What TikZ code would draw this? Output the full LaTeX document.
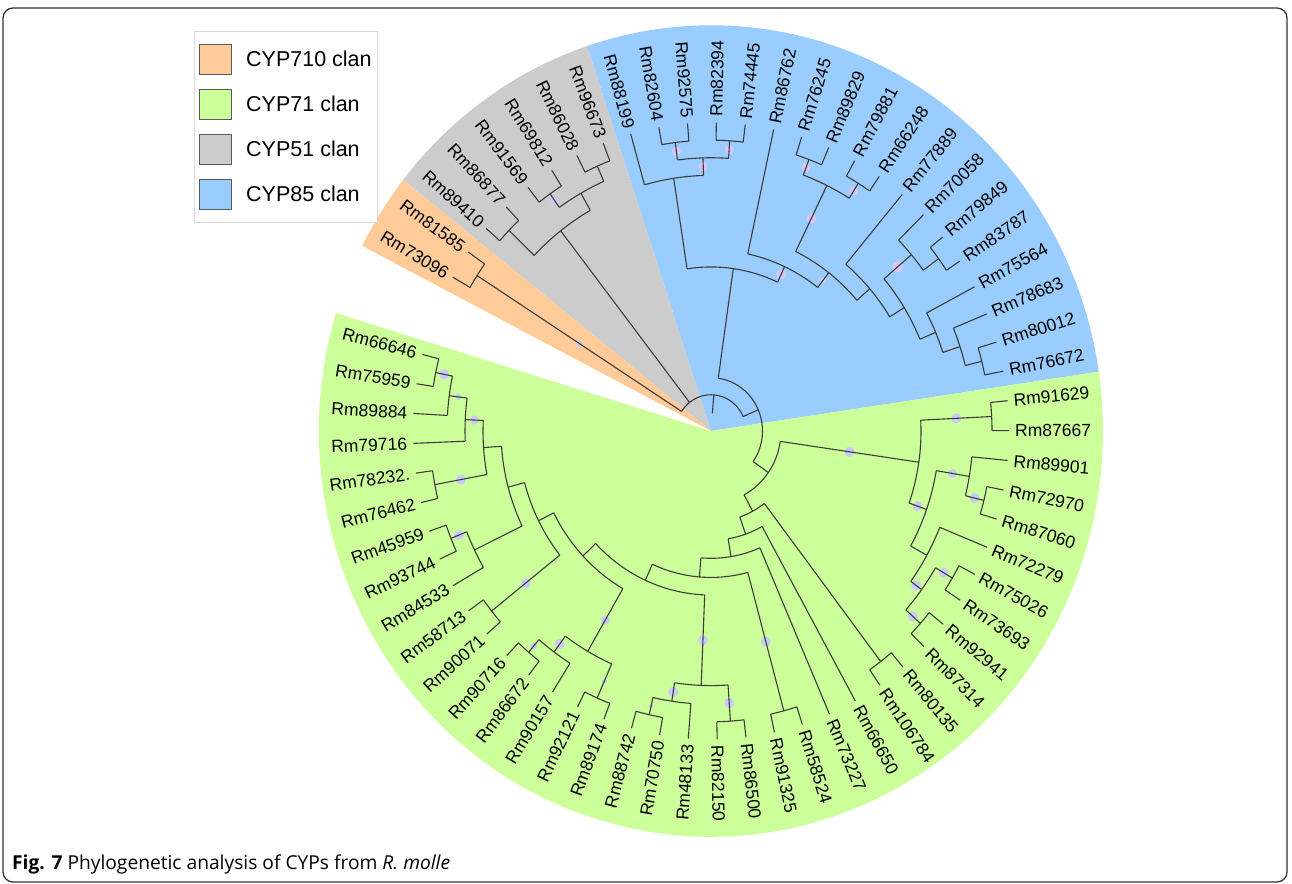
\documentclass[tikz,border=0pt]{standalone}
\usepackage{fontspec}
\setmainfont{Liberation Sans}
\newfontfamily\capfont{Open Sans}
\definecolor{corange}{HTML}{FFCC99}
\definecolor{cgreen}{HTML}{CCFF99}
\definecolor{cgrey}{HTML}{CCCCCC}
\definecolor{cblue}{HTML}{99CCFF}
\definecolor{dotG}{HTML}{C8CCF2}
\definecolor{dotB}{HTML}{D6C6F4}
\definecolor{treeline}{HTML}{3C3C3C}
\newcommand\tarc[3]{\draw[br] (#2:#1) arc[start angle=#2,end angle=#3,radius=#1];}
\newcommand\tstem[3]{\draw[br] (#1:#2) -- (#1:#3);}
\newcommand\tdot[4]{\fill[#1] (#2:#3) circle (#4);}
\newcommand\tleaf[4]{%
  \coordinate (tip#1) at (#2:298);
  \draw[br] (#2:#3) -- (tip#1);
  \pgfmathtruncatemacro\tside{cos(#2)>0 ? 1 : 0}%
  \pgfmathsetmacro\tap{atan2(1.035*sin(#2),cos(#2))}%
  \ifnum\tside=1
    \node[lbl,anchor=west,rotate=\tap] (#1) at (tip#1) {#4};
  \else
    \pgfmathsetmacro\tap{\tap+180}%
    \node[lbl,anchor=east,rotate=\tap] (#1) at (tip#1) {#4};
  \fi}
\begin{document}
\begin{tikzpicture}[x=1pt,y=1pt,
  br/.style={draw=treeline,line width=1.1pt},
  lbl/.style={font=\fontsize{17.5}{20}\selectfont,inner xsep=6pt,inner ysep=1pt,text=black},
  sq/.style={draw=black!65,line width=0.8pt,minimum width=32pt,minimum height=30pt,inner sep=0pt},
  legt/.style={anchor=west,font=\fontsize{21.5}{24}\selectfont,inner sep=0pt}]
\useasboundingbox (0,0) rectangle (1292,883);
\fill[white] (0,0) rectangle (1292,883);
\draw[line width=1.3pt,draw=black!80,rounded corners=10pt] (3,1) rectangle (1287,875);

\begin{scope}[shift={(711,452)},yscale=1.035]
% clan sectors
\fill[cblue] (0,0) -- (8.41:392) arc[start angle=8.41,end angle=108.41,radius=392] -- cycle;
\fill[cgrey] (0,0) -- (108.41:392) arc[start angle=108.41,end angle=141.74,radius=392] -- cycle;
\fill[corange] (0,0) -- (141.74:392) arc[start angle=141.74,end angle=152.85,radius=392] -- cycle;
\fill[cgreen] (0,0) -- (163.1:392) arc[start angle=163.1,end angle=368.41,radius=392] -- cycle;

% support dots
\tdot{dotB}{97.30}{272.5}{4.5}
\tdot{dotB}{86.19}{272.5}{4.5}
\tdot{dotB}{91.745}{255.5}{4.5}
\tdot{dotB}{65.14}{166.75}{5}
\tdot{dotB}{52.42}{184}{3}
\tdot{dotB}{63.965}{228.5}{5}
\tdot{dotB}{69.52}{272}{4.5}
\tdot{dotB}{58.41}{272.5}{4.5}
\tdot{dotB}{40.355}{245}{5.5}
\tdot{dotB}{36.19}{272.5}{2}
\tdot{dotB}{18.13}{253}{2}
\tdot{dotG}{125.08}{272}{4.5}
\tdot{dotG}{147.305}{156.5}{3}
\tdot{dotG}{-8.26}{140}{5}
\tdot{dotG}{2.855}{245.5}{5}
\tdot{dotG}{-19.37}{219}{5}
\tdot{dotG}{-9.645}{245}{4.5}
\tdot{dotG}{-13.81}{271.5}{5}
\tdot{dotG}{-29.09}{237.75}{1.5}
\tdot{dotG}{-36.035}{253.75}{5}
\tdot{dotG}{-30.48}{270}{5}
\tdot{dotG}{-41.59}{270}{5}
\tdot{dotG}{-74.925}{210.75}{5}
\tdot{dotG}{-92.285}{202.25}{5}
\tdot{dotG}{-98.535}{255}{5}
\tdot{dotG}{-102.70}{272.5}{2}
\tdot{dotG}{-86.035}{263.5}{5}
\tdot{dotG}{-120.065}{211}{4.5}
\tdot{dotG}{-126.315}{255.5}{5}
\tdot{dotG}{-130.48}{273}{3.5}
\tdot{dotG}{-113.815}{264}{2.5}
\tdot{dotG}{-141.59}{236.5}{5}
\tdot{dotG}{-158.26}{271.5}{5}
\tdot{dotG}{-169.37}{254.5}{5}
\tdot{dotG}{-182.5625}{237}{4.5}
\tdot{dotG}{-187.425}{255}{3}
\tdot{dotG}{-191.59}{272.5}{5}

% root
\tstem{85.38}{17}{35}
\tarc{35}{23.45}{147.305}
\tstem{23.45}{35}{51.5}
\tstem{127.86}{35}{245}
\tstem{147.305}{35}{278}
% CYP710
\tarc{278}{144.53}{150.08}
\tleaf{x81585}{144.53}{278}{Rm81585}
\tleaf{x73096}{150.08}{278}{Rm73096}
% CYP51
\tarc{245}{119.52}{136.19}
\tstem{119.52}{245}{264}
\tstem{136.19}{245}{280}
\tarc{264}{113.965}{125.08}
\tstem{113.965}{264}{280}
\tstem{125.08}{264}{280}
\tarc{280}{111.19}{116.74}
\tleaf{x96673}{111.19}{280}{Rm96673}
\tleaf{x86028}{116.74}{280}{Rm86028}
\tarc{280}{122.30}{127.86}
\tleaf{x69812}{122.30}{280}{Rm69812}
\tleaf{x91569}{127.86}{280}{Rm91569}
\tarc{280}{133.41}{138.97}
\tleaf{x86877}{133.41}{280}{Rm86877}
\tleaf{x89410}{138.97}{280}{Rm89410}
% split CYP85 / CYP71
\tarc{51.5}{-35.016}{81.915}
\tstem{81.915}{51.5}{158.5}
\tstem{-35.016}{51.5}{70}
% CYP85
\tarc{158.5}{65.14}{98.69}
\tstem{98.69}{158.5}{247}
\tstem{65.14}{158.5}{175}
\tarc{247}{91.745}{105.63}
\tleaf{x88199}{105.63}{247}{Rm88199}
\tstem{91.745}{247}{264}
\tarc{264}{86.19}{97.30}
\tstem{97.30}{264}{281}
\tstem{86.19}{264}{281}
\tarc{281}{94.52}{100.08}
\tleaf{x82604}{100.08}{281}{Rm82604}
\tleaf{x92575}{94.52}{281}{Rm92575}
\tarc{281}{83.41}{88.97}
\tleaf{x82394}{88.97}{281}{Rm82394}
\tleaf{x74445}{83.41}{281}{Rm74445}
\tarc{175}{52.42}{77.86}
\tleaf{x86762}{77.86}{175}{Rm86762}
\tstem{52.42}{175}{193}
\tarc{193}{40.88}{63.965}
\tstem{63.965}{193}{264}
\tstem{40.88}{193}{210}
\tarc{264}{58.41}{69.52}
\tstem{69.52}{264}{280}
\tstem{58.41}{264}{281}
\tarc{280}{66.74}{72.30}
\tleaf{x76245}{72.30}{280}{Rm76245}
\tleaf{x89829}{66.74}{280}{Rm89829}
\tarc{281}{55.63}{61.19}
\tleaf{x79881}{61.19}{281}{Rm79881}
\tleaf{x66248}{55.63}{281}{Rm66248}
\tarc{210}{31.675}{50.08}
\tleaf{x77889}{50.08}{210}{Rm77889}
\tstem{31.675}{210}{227}
\tarc{227}{22.995}{40.355}
\tstem{40.355}{227}{263}
\tstem{22.995}{227}{244}
\tarc{263}{36.19}{44.52}
\tleaf{x70058}{44.52}{263}{Rm70058}
\tstem{36.19}{263}{282}
\tarc{282}{33.41}{38.97}
\tleaf{x79849}{38.97}{282}{Rm79849}
\tleaf{x83787}{33.41}{282}{Rm83787}
\tarc{244}{18.13}{27.86}
\tleaf{x75564}{27.86}{244}{Rm75564}
\tstem{18.13}{244}{262}
\tarc{262}{13.965}{22.30}
\tleaf{x78683}{22.30}{262}{Rm78683}
\tstem{13.965}{262}{279}
\tarc{279}{11.19}{16.74}
\tleaf{x80012}{16.74}{279}{Rm80012}
\tleaf{x76672}{11.19}{279}{Rm76672}
% CYP71
\tarc{70}{-61.772}{-8.26}
\tstem{-8.26}{70}{210}
\tstem{-61.772}{70}{88}
\tarc{210}{-19.37}{2.855}
\tstem{2.855}{210}{281}
\tstem{-19.37}{210}{228.5}
\tarc{281}{0.08}{5.63}
\tleaf{x91629}{5.63}{281}{Rm91629}
\tleaf{x87667}{0.08}{281}{Rm87667}
\tarc{228.5}{-29.09}{-9.645}
\tstem{-9.645}{228.5}{262}
\tstem{-29.09}{228.5}{247}
\tarc{262}{-13.81}{-5.48}
\tleaf{x89901}{-5.48}{262}{Rm89901}
\tstem{-13.81}{262}{281}
\tarc{281}{-16.59}{-11.03}
\tleaf{x72970}{-11.03}{281}{Rm72970}
\tleaf{x87060}{-16.59}{281}{Rm87060}
\tarc{247}{-36.035}{-22.14}
\tleaf{x72279}{-22.14}{247}{Rm72279}
\tstem{-36.035}{247}{260.5}
\tarc{260.5}{-41.59}{-30.48}
\tstem{-30.48}{260.5}{280}
\tstem{-41.59}{260.5}{280}
\tarc{280}{-33.26}{-27.70}
\tleaf{x75026}{-27.70}{280}{Rm75026}
\tleaf{x73693}{-33.26}{280}{Rm73693}
\tarc{280}{-44.37}{-38.81}
\tleaf{x92941}{-38.81}{280}{Rm92941}
\tleaf{x87314}{-44.37}{280}{Rm87314}
\tarc{88}{-70.844}{-52.70}
\tstem{-52.70}{88}{280}
\tstem{-70.844}{88}{105.5}
\tarc{280}{-55.48}{-49.92}
\tleaf{x80135}{-49.92}{280}{Rm80135}
\tleaf{x106784}{-55.48}{280}{Rm106784}
\tarc{105.5}{-80.648}{-61.04}
\tleaf{x66650}{-61.04}{105.5}{Rm66650}
\tstem{-80.648}{105.5}{123}
\tarc{123}{-94.706}{-66.59}
\tleaf{x73227}{-66.59}{123}{Rm73227}
\tstem{-94.706}{123}{141.5}
\tarc{141.5}{-114.486}{-74.925}
\tstem{-74.925}{141.5}{280}
\tstem{-114.486}{141.5}{158.5}
\tarc{280}{-77.70}{-72.15}
\tleaf{x58524}{-72.15}{280}{Rm58524}
\tleaf{x91325}{-77.70}{280}{Rm91325}
\tarc{158.5}{-136.687}{-92.285}
\tstem{-92.285}{158.5}{246}
\tstem{-136.687}{158.5}{176}
\tarc{246}{-98.535}{-86.035}
\tstem{-98.535}{246}{264}
\tstem{-86.035}{246}{281}
\tarc{281}{-88.81}{-83.26}
\tleaf{x86500}{-83.26}{281}{Rm86500}
\tleaf{x82150}{-88.81}{281}{Rm82150}
\tarc{264}{-102.70}{-94.37}
\tleaf{x48133}{-94.37}{264}{Rm48133}
\tstem{-102.70}{264}{281}
\tarc{281}{-105.48}{-99.92}
\tleaf{x70750}{-99.92}{281}{Rm70750}
\tleaf{x88742}{-105.48}{281}{Rm88742}
\tarc{176}{-153.309}{-120.065}
\tstem{-120.065}{176}{246}
\tstem{-153.309}{176}{193}
\tarc{246}{-126.315}{-113.815}
\tstem{-113.815}{246}{282}
\tstem{-126.315}{246}{265}
\tarc{282}{-116.59}{-111.04}
\tleaf{x89174}{-111.04}{282}{Rm89174}
\tleaf{x92121}{-116.59}{282}{Rm92121}
\tarc{265}{-130.48}{-122.15}
\tleaf{x90157}{-122.15}{265}{Rm90157}
\tstem{-130.48}{265}{281}
\tarc{281}{-133.26}{-127.70}
\tleaf{x86672}{-127.70}{281}{Rm86672}
\tleaf{x90716}{-133.26}{281}{Rm90716}
\tarc{193}{-165.028}{-141.59}
\tstem{-141.59}{193}{280}
\tstem{-165.028}{193}{210}
\tarc{280}{-144.37}{-138.81}
\tleaf{x90071}{-138.81}{280}{Rm90071}
\tleaf{x58713}{-144.37}{280}{Rm58713}
\tarc{210}{-175.966}{-154.09}
\tstem{-154.09}{210}{263}
\tstem{-175.966}{210}{228}
\tarc{263}{-158.26}{-149.92}
\tleaf{x84533}{-149.92}{263}{Rm84533}
\tstem{-158.26}{263}{280}
\tarc{280}{-161.04}{-155.48}
\tleaf{x93744}{-155.48}{280}{Rm93744}
\tleaf{x45959}{-161.04}{280}{Rm45959}
\tarc{228}{-182.5625}{-169.37}
\tstem{-169.37}{228}{281}
\tstem{-182.5625}{228}{246}
\tarc{281}{-172.15}{-166.59}
\tleaf{x76462}{-166.59}{281}{Rm76462}
\tleaf{x78232}{-172.15}{281}{Rm78232.}
\tarc{246}{-187.425}{-177.70}
\tleaf{x79716}{-177.70}{246}{Rm79716}
\tstem{-187.425}{246}{264}
\tarc{264}{-191.59}{-183.26}
\tleaf{x89884}{-183.26}{264}{Rm89884}
\tstem{-191.59}{264}{281}
\tarc{281}{-194.37}{-188.81}
\tleaf{x75959}{-188.81}{281}{Rm75959}
\tleaf{x66646}{-194.37}{281}{Rm66646}
\end{scope}

% legend
\draw[draw=black!15,line width=0.8pt,fill=white] (194,661) rectangle (377,852);
\node[sq,fill=corange] (k1) at (215.5,824) {};
\node[sq,fill=cgreen] (k2) at (215.5,779) {};
\node[sq,fill=cgrey] (k3) at (215.5,734) {};
\node[sq,fill=cblue] (k4) at (215.5,689) {};
\node[legt] (t1) at (246,824) {CYP710 clan};
\node[legt] (t2) at (246,779) {CYP71 clan};
\node[legt] (t3) at (246,734) {CYP51 clan};
\node[legt] (t4) at (246,689) {CYP85 clan};

% caption
\node[anchor=base west,inner sep=0pt,font=\capfont\fontsize{19.2}{22}\selectfont] (cap) at (12,14)
  {\textbf{Fig. 7} Phylogenetic analysis of CYPs from \textit{R. molle}};
\end{tikzpicture}
\end{document}
